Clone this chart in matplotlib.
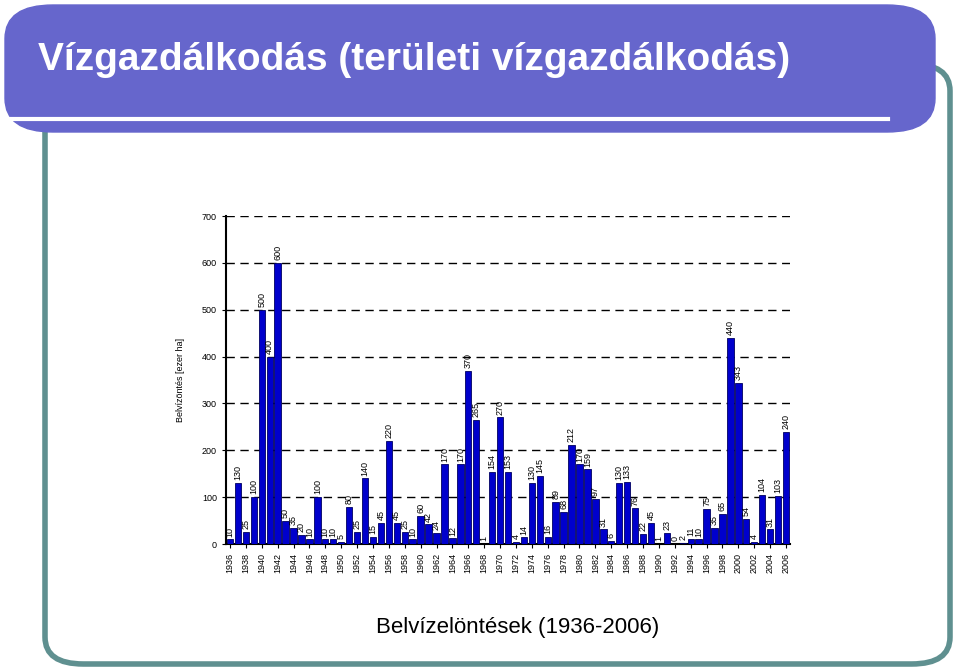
import matplotlib
matplotlib.use("Agg")
import matplotlib.pyplot as plt
from matplotlib.patches import FancyBboxPatch
import numpy as np

years = list(range(1936, 2007))
values = [10,130,25,100,500,400,600,50,35,20,10,100,10,10,5,80,25,140,15,45,
          220,45,25,10,60,42,24,170,12,170,370,265,1,154,270,153,4,14,130,145,
          16,89,68,212,170,159,97,31,6,130,133,76,22,45,1,23,0,2,11,10,
          75,35,65,440,343,54,4,104,31,103,240]
title = "Vízgazdálkodás (területi vízgazdálkodás)"
caption = "Belvízelöntések (1936-2006)"
ylabel = "Belvízöntés [ezer ha]"

fig = plt.figure(figsize=(9.6, 6.72), dpi=100)
fig.patch.set_facecolor("white")
W, H = 960, 672
# teal frame
frame = FancyBboxPatch((45/W, 8/H), 905/W, 600/H, boxstyle="round,pad=0,rounding_size=0.04",
                       transform=fig.transFigure, fill=False, ec="#5f9090", lw=4)
fig.patches.append(frame)
# header
hdr = FancyBboxPatch((5/W, 540/H), 930/W, 127/H, boxstyle="round,pad=0,rounding_size=0.05",
                     transform=fig.transFigure, fc="#6666cc", ec="#6666cc")
fig.patches.append(hdr)
fig.add_artist(plt.Line2D([5/W, 888/W], [553/H, 553/H], color="white", lw=3))
fig.text(38/W, 612/H, title, color="white", fontsize=28, fontweight="bold",
         family="Liberation Sans", va="center", ha="left")
fig.text(518/W, 45/H, caption, fontsize=16, family="Liberation Sans", ha="center", va="center")

ax = fig.add_axes([226/W, 128/H, 564/W, 328/H])
x = np.arange(len(years))
ax.bar(x, values, width=0.8, color="#0000cc", edgecolor="#000060", linewidth=0.6, zorder=3)
for xi, v in zip(x, values):
    ax.text(xi, v + 6, str(v), rotation=90, ha="center", va="bottom", fontsize=6.5,
            family="Liberation Sans", zorder=4)
ax.set_xlim(-0.5, len(years) - 0.5)
ax.set_ylim(0, 700)
ax.set_yticks(range(0, 701, 100))
ax.set_xticks(x[::2])
ax.set_xticklabels([str(y) for y in years[::2]], rotation=90, fontsize=6.5, family="Liberation Sans")
ax.tick_params(axis="y", labelsize=6.5, length=3)
ax.tick_params(axis="x", length=3)
for lab in ax.get_yticklabels():
    lab.set_family("Liberation Sans")
ax.yaxis.grid(True, linestyle=(0, (6, 4)), color="black", lw=1, zorder=0)
for s in ["top", "right"]:
    ax.spines[s].set_visible(False)
ax.spines["left"].set_linewidth(1.5)
ax.spines["bottom"].set_linewidth(1.5)
ax.set_ylabel(ylabel, fontsize=6.5, family="Liberation Sans", labelpad=12)
fig.savefig("out.png", dpi=100)
